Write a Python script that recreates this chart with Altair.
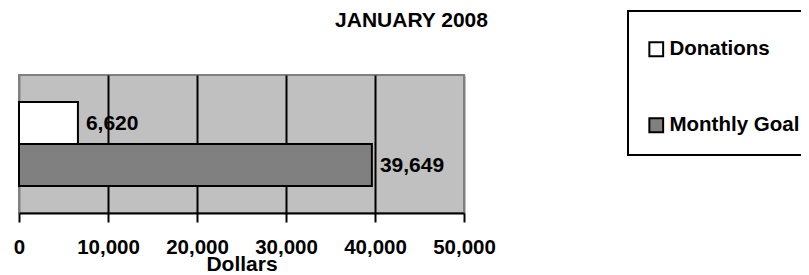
import altair as alt
import pandas as pd

series = ["Donations", "Monthly Goal"]
values = [6620, 39649]
fills = ["#ffffff", "#808080"]
tick_values = [0, 10000, 20000, 30000, 40000, 50000]
title_text = "JANUARY 2008"
x_title = "Dollars"

df = pd.DataFrame({"series": series, "value": values})

FONT = "Liberation Sans"

y_enc = alt.Y("series:N", sort=series, axis=None,
              scale=alt.Scale(paddingInner=0, paddingOuter=0.643))
x_enc = alt.X("value:Q",
              scale=alt.Scale(domain=[0, 50000], nice=False),
              axis=alt.Axis(values=tick_values, format=",.0f", title=x_title,
                            labelFont=FONT, labelFontSize=20.5, labelFontWeight="bold",
                            labelColor="black", labelPadding=15, labelFlush=False,
                            titleFont=FONT, titleFontSize=21, titleFontWeight="bold",
                            titleColor="black", titlePadding=-4,
                            tickSize=9, tickWidth=2, tickColor="black",
                            domainColor="black", domainWidth=2,
                            grid=True, gridWidth=2,
                            gridColor=alt.condition("datum.value === 0 || datum.value === 50000",
                                                    alt.value("#808080"), alt.value("black"))))

bars = alt.Chart(df).mark_bar(stroke="black", strokeWidth=2).encode(
    x=x_enc,
    y=y_enc,
    fill=alt.Fill("series:N", sort=series,
                  scale=alt.Scale(domain=series, range=fills),
                  legend=alt.Legend(title=" ", orient="none", legendX=609, legendY=-64,
                                    padding=18, rowPadding=53, titleFontSize=7, titlePadding=3,
                                    symbolType="square", symbolSize=190,
                                    symbolStrokeColor="black", symbolStrokeWidth=2,
                                    labelFont=FONT, labelFontSize=20.5, labelFontWeight="bold",
                                    labelColor="black", labelOffset=3, labelLimit=400,
                                    strokeColor="black")),
)

labels = alt.Chart(df).mark_text(align="left", baseline="middle", dx=8, dy=1,
                                 font=FONT, fontSize=21, fontWeight="bold", color="black").encode(
    x=alt.X("value:Q"),
    y=alt.Y("series:N", sort=series),
    text=alt.Text("value:Q", format=","),
)

chart = alt.layer(bars, labels).properties(
    width=445, height=138,
    title=alt.TitleParams(title_text, font=FONT, fontSize=21, fontWeight="bold",
                          color="black", anchor="middle", dx=170, offset=-21),
    padding={"left": 11, "top": 67, "right": 337, "bottom": 62},
    autosize=alt.AutoSizeParams(type="none"),
).configure_view(stroke="#808080", strokeWidth=2, fill="#c0c0c0"
).configure_legend(strokeWidth=2)

chart.save("out.html", embed_options={"renderer": "svg", "actions": False})
